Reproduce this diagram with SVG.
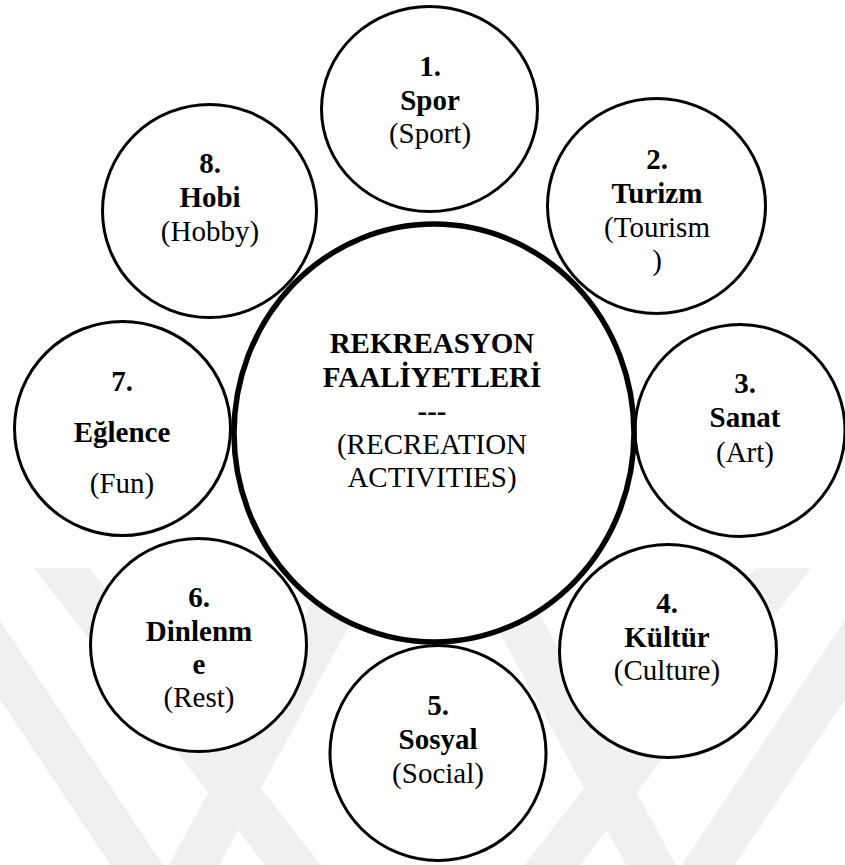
<svg xmlns="http://www.w3.org/2000/svg" width="845" height="865" viewBox="0 0 845 865">
  <defs>
    <style>
      .node { fill: #ffffff; stroke: #000000; stroke-width: 3; }
      .hub { fill: none; stroke: #000000; stroke-width: 5.5; }
      .wm { fill: none; stroke: #f0f0f0; stroke-width: 44; stroke-linecap: butt; }
    </style>
    <clipPath id="wmclip">
      <rect x="0" y="568" width="845" height="297"/>
    </clipPath>
  </defs>
  <rect x="0" y="0" width="845" height="865" fill="#ffffff"/>

  <g id="watermark" clip-path="url(#wmclip)">
    <line class="wm" x1="40" y1="540" x2="320" y2="900"/>
    <line class="wm" x1="175" y1="900" x2="360" y2="560"/>
    <line class="wm" x1="-40" y1="600" x2="160" y2="900"/>
    <line class="wm" x1="805" y1="540" x2="525" y2="900"/>
    <line class="wm" x1="670" y1="900" x2="485" y2="560"/>
    <line class="wm" x1="885" y1="600" x2="685" y2="900"/>
  </g>

  <g id="backdrop">
    <ellipse cx="434" cy="433" rx="200" ry="209" fill="#ffffff"/>
  </g>

  <g id="nodes" font-family="Liberation Serif" font-size="29" fill="#000000" text-anchor="middle">
  <g id="node-1">
    <ellipse class="node" cx="429.5" cy="109" rx="108" ry="102.5"/>
    <text font-weight="bold" x="430" y="76">1.</text>
    <text font-weight="bold" x="430" y="110">Spor</text>
    <text x="430" y="143">(Sport)</text>
  </g>
  <g id="node-2">
    <ellipse class="node" cx="656.5" cy="206" rx="109" ry="107.5"/>
    <text font-weight="bold" x="657" y="169">2.</text>
    <text font-weight="bold" x="657" y="203">Turizm</text>
    <text x="657" y="237">(Tourism</text>
    <text x="657" y="270">)</text>
  </g>
  <g id="node-3">
    <ellipse class="node" cx="740" cy="430.5" rx="105" ry="106"/>
    <text font-weight="bold" x="745" y="393">3.</text>
    <text font-weight="bold" x="745" y="427">Sanat</text>
    <text x="745" y="462">(Art)</text>
  </g>
  <g id="node-4">
    <ellipse class="node" cx="668" cy="651" rx="108.5" ry="106.5"/>
    <text font-weight="bold" x="667" y="613">4.</text>
    <text font-weight="bold" x="667" y="647">Kültür</text>
    <text x="667" y="680">(Culture)</text>
  </g>
  <g id="node-5">
    <ellipse class="node" cx="438" cy="753" rx="108" ry="107.5"/>
    <text font-weight="bold" x="438" y="715">5.</text>
    <text font-weight="bold" x="438" y="749">Sosyal</text>
    <text x="438" y="783">(Social)</text>
  </g>
  <g id="node-6">
    <ellipse class="node" cx="198.5" cy="645" rx="108" ry="106.5"/>
    <text font-weight="bold" x="199" y="607">6.</text>
    <text font-weight="bold" x="199" y="641">Dinlenm</text>
    <text font-weight="bold" x="199" y="674">e</text>
    <text x="199" y="707">(Rest)</text>
  </g>
  <g id="node-7">
    <ellipse class="node" cx="122.5" cy="428.5" rx="108" ry="107"/>
    <text font-weight="bold" x="122" y="391">7.</text>
    <text font-weight="bold" x="122" y="442">Eğlence</text>
    <text x="122" y="493">(Fun)</text>
  </g>
  <g id="node-8">
    <ellipse class="node" cx="209.5" cy="211" rx="107" ry="106.5"/>
    <text font-weight="bold" x="210" y="173">8.</text>
    <text font-weight="bold" x="210" y="207">Hobi</text>
    <text x="210" y="241">(Hobby)</text>
  </g>

  <g id="node-center">
    <ellipse class="hub" cx="434" cy="433" rx="200" ry="209"/>
    <text font-weight="bold" x="432" y="353">REKREASYON</text>
    <text font-weight="bold" x="432" y="387">FAALİYETLERİ</text>
    <text font-weight="bold" x="432" y="421">---</text>
    <text x="432" y="454">(RECREATION</text>
    <text x="432" y="487">ACTIVITIES)</text>
  </g>
  </g>

  <g id="connectors"></g>
</svg>
